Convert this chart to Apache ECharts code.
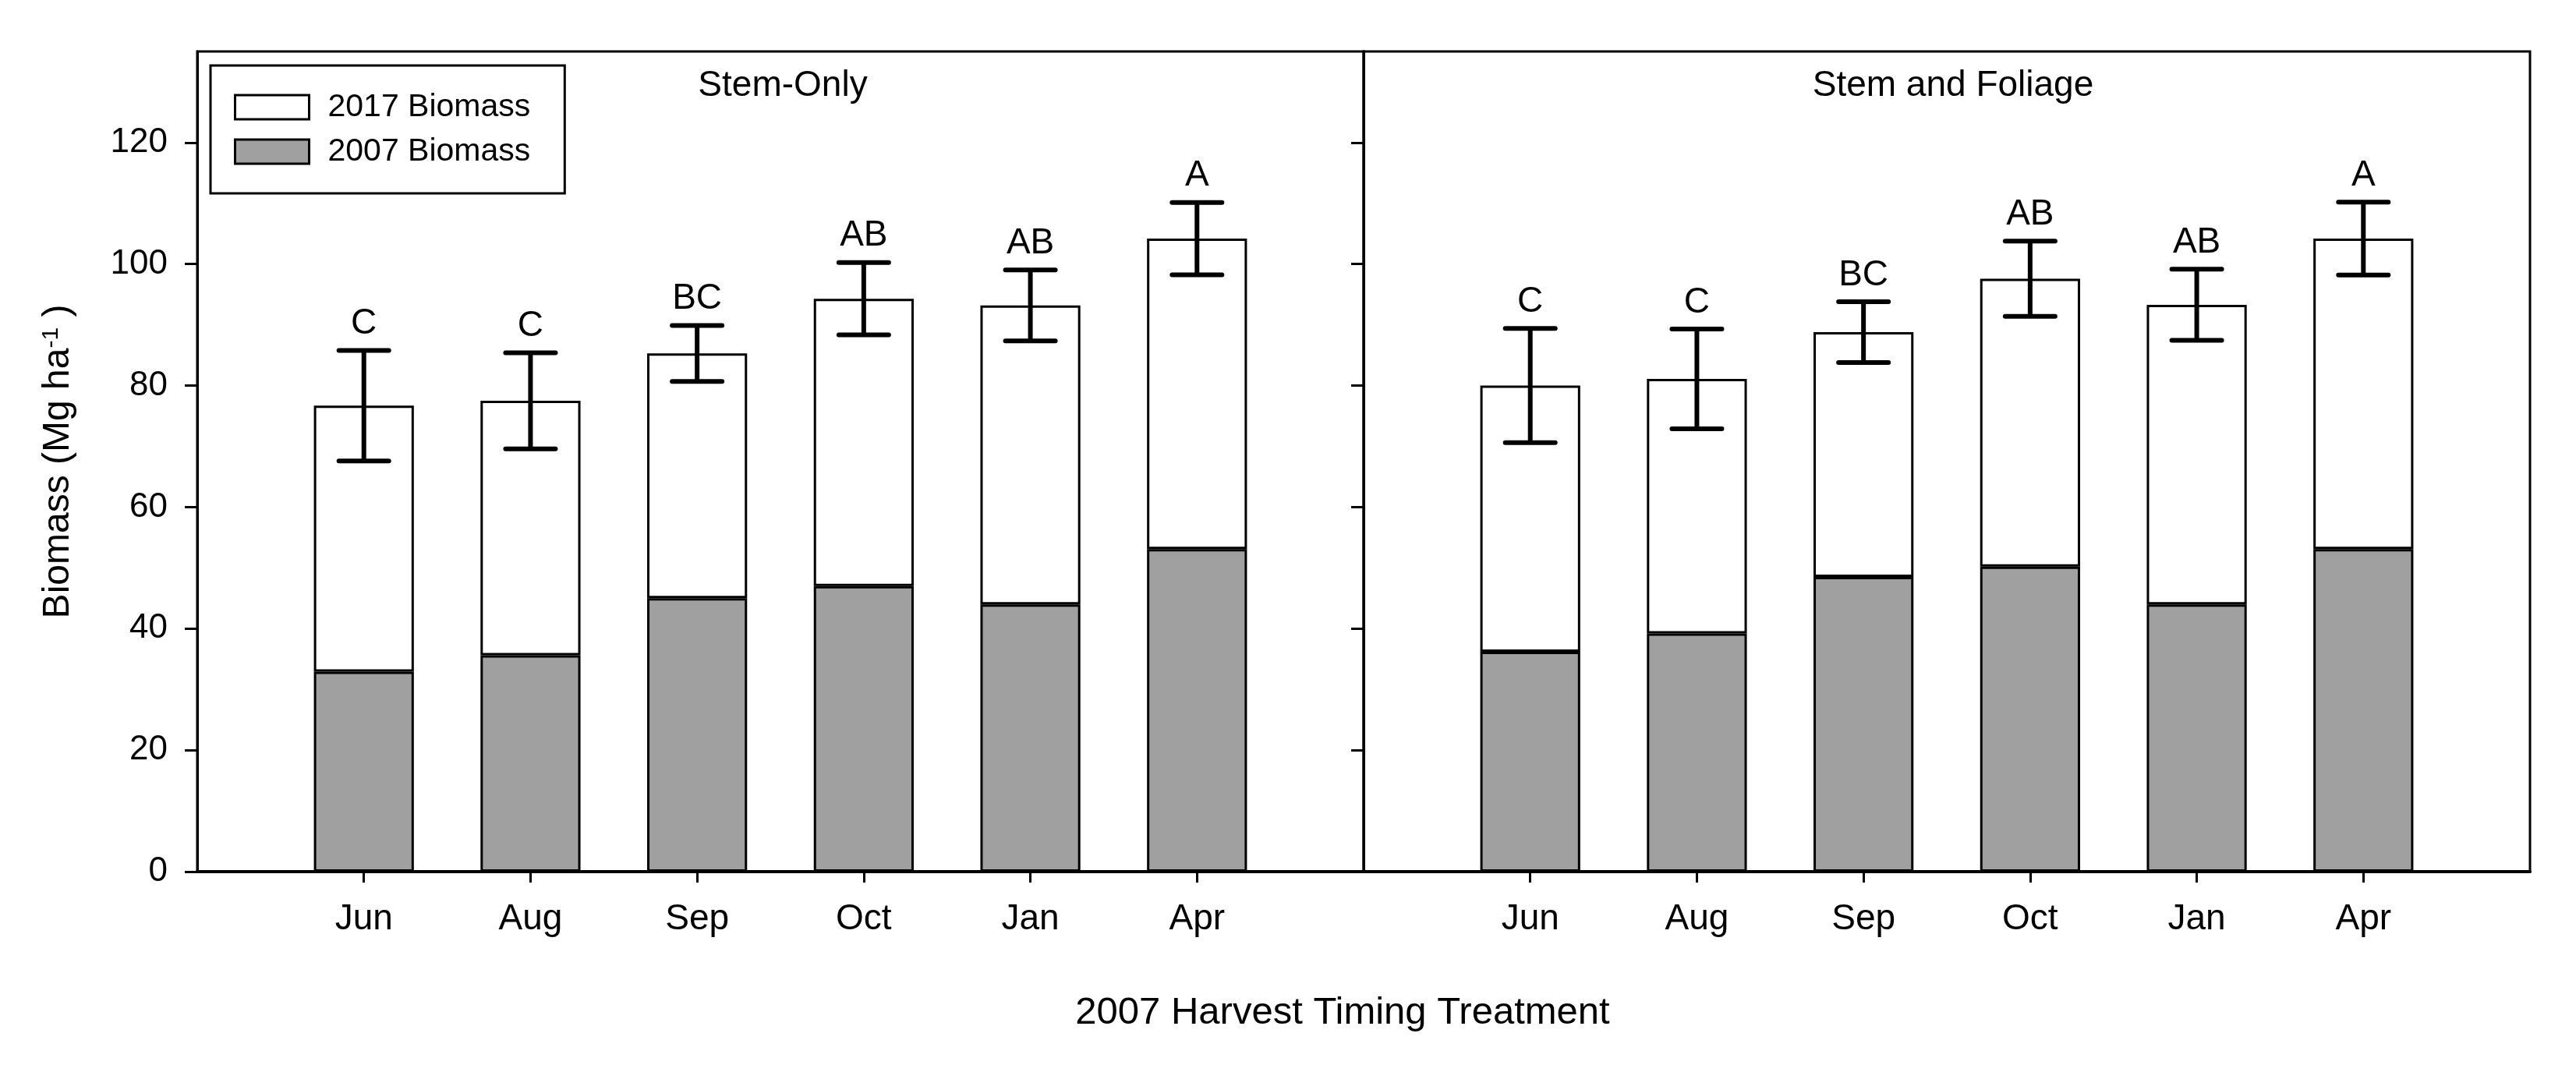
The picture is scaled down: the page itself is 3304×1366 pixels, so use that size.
<!DOCTYPE html>
<html><head><meta charset="utf-8">
<script src="https://cdn.jsdelivr.net/npm/echarts@6/dist/echarts.min.js"></script>
<style>html,body{margin:0;padding:0;background:#fff}#c{width:3304px;height:1366px}</style>
</head><body><div id="c"></div>
<script>
const months = ['Jun','Aug','Sep','Oct','Jan','Apr'];
const yTicks = [0,20,40,60,80,100,120];
const panelTitles = ['Stem-Only','Stem and Foliage'];
const seriesNames = ['2017 Biomass','2007 Biomass'];
// Stem-Only panel
const stemOnlyTotal = [76.7,77.5,85.3,94.3,93.2,104.2];
const stemOnly2007 = [32.9,35.6,45.0,47.0,44.0,53.1];
const stemOnlyErr = [9.1,7.9,4.6,5.95,5.85,5.95];
const stemOnlyLetters = ['C','C','BC','AB','AB','A'];
// Stem and Foliage panel
const foliageTotal = [80.0,81.1,88.8,97.6,93.3,104.2];
const foliage2007 = [36.2,39.2,48.5,50.2,44.0,53.1];
const foliageErr = [9.4,8.2,5.0,6.2,5.85,6.0];
const foliageLetters = ['C','C','BC','AB','AB','A'];

const FF = 'Liberation Sans, Arial, sans-serif';
const cats = [''].concat(months, ['']);
const panels = [
  {total: stemOnlyTotal, base: stemOnly2007, err: stemOnlyErr, letters: stemOnlyLetters},
  {total: foliageTotal, base: foliage2007, err: foliageErr, letters: foliageLetters}
];
const grids = [
  {left: 253, top: 66, width: 1496, height: 1052, show: true, borderColor: '#000', borderWidth: 3, backgroundColor: 'transparent'},
  {left: 1749, top: 66, width: 1496, height: 1052, show: true, borderColor: '#000', borderWidth: 3, backgroundColor: 'transparent'}
];
const xAxes = [0,1].map(g => ({
  type: 'category', gridIndex: g, data: cats, boundaryGap: false,
  axisLine: {show: true, lineStyle: {color: '#000', width: 4}},
  axisTick: {show: true, interval: (i) => i >= 1 && i <= months.length, length: 14, lineStyle: {color: '#000', width: 3}},
  axisLabel: {interval: 0, margin: 38, fontSize: 46, color: '#000', fontFamily: FF},
  splitLine: {show: false}
}));
const yAxes = [0,1].map(g => ({
  type: 'value', gridIndex: g, min: 0, max: 135, interval: 20,
  axisLine: {show: true, lineStyle: {color: '#000', width: 3}},
  axisTick: {show: true, length: 16, customValues: yTicks, lineStyle: {color: '#000', width: 3}},
  axisLabel: {show: g === 0, customValues: yTicks, margin: 38, fontSize: 44, color: '#000', fontFamily: FF},
  splitLine: {show: false}
}));
const series = [];
panels.forEach((p, g) => {
  series.push({
    name: seriesNames[1], type: 'bar', stack: 'p' + g, xAxisIndex: g, yAxisIndex: g, barWidth: '60%',
    itemStyle: {color: '#a0a0a0', borderColor: '#000', borderWidth: 3},
    data: ['-'].concat(p.base, ['-'])
  });
  series.push({
    name: seriesNames[0], type: 'bar', stack: 'p' + g, xAxisIndex: g, yAxisIndex: g, barWidth: '60%',
    itemStyle: {color: '#ffffff', borderColor: '#000', borderWidth: 3},
    data: ['-'].concat(p.total.map((t, i) => +(t - p.base[i]).toFixed(2)), ['-'])
  });
  series.push({
    type: 'custom', xAxisIndex: g, yAxisIndex: g, z: 5,
    encode: {x: 0, y: [1, 2]},
    data: p.total.map((t, i) => [i + 1, t - p.err[i], t + p.err[i]]),
    renderItem: (params, api) => {
      const x = api.value(0);
      const lo = api.coord([x, api.value(1)]);
      const hi = api.coord([x, api.value(2)]);
      const hw = 32;
      const st = {stroke: '#000', lineWidth: 6, lineCap: 'round'};
      return {type: 'group', children: [
        {type: 'line', shape: {x1: lo[0], y1: lo[1], x2: hi[0], y2: hi[1]}, style: {stroke: '#000', lineWidth: 6}},
        {type: 'line', shape: {x1: hi[0] - hw, y1: hi[1], x2: hi[0] + hw, y2: hi[1]}, style: st},
        {type: 'line', shape: {x1: lo[0] - hw, y1: lo[1], x2: lo[0] + hw, y2: lo[1]}, style: st},
        {type: 'text', style: {text: p.letters[params.dataIndex], x: hi[0], y: hi[1] - 11, align: 'center', verticalAlign: 'bottom', fontSize: 46, fontFamily: FF, fill: '#000'}}
      ]};
    }
  });
});
const chart = echarts.init(document.getElementById('c'), null, {renderer: 'canvas'});
chart.setOption({
  animation: false,
  backgroundColor: '#fff',
  textStyle: {fontFamily: FF},
  grid: grids, xAxis: xAxes, yAxis: yAxes, series: series,
  legend: {
    data: seriesNames, orient: 'vertical', left: 270, top: 84,
    padding: [33, 44, 33, 30], itemGap: 16, itemWidth: 95, itemHeight: 31,
    borderColor: '#000', borderWidth: 3, borderRadius: 0, backgroundColor: '#fff',
    icon: 'rect',
    itemStyle: {borderColor: '#000', borderWidth: 3},
    textStyle: {fontSize: 41, color: '#000', fontFamily: FF, padding: [0, 0, 0, 19]}
  },
  graphic: [
    {type: 'text', left: 1004, top: 110, style: {text: panelTitles[0], fontSize: 46, fontFamily: FF, fill: '#000'}, x: 1004, y: 110},
  ]
});
// titles via graphic with explicit positions
chart.setOption({graphic: [
  {type: 'text', x: 1004, y: 110, style: {text: panelTitles[0], align: 'center', verticalAlign: 'middle', fontSize: 46, fontFamily: FF, fill: '#000'}},
  {type: 'text', x: 2505, y: 110, style: {text: panelTitles[1], align: 'center', verticalAlign: 'middle', fontSize: 46, fontFamily: FF, fill: '#000'}},
  {type: 'text', x: 1722, y: 1299, style: {text: '2007 Harvest Timing Treatment', align: 'center', verticalAlign: 'middle', fontSize: 49, fontFamily: FF, fill: '#000'}},
  {type: 'text', x: 75, y: 592, rotation: Math.PI / 2, style: {text: 'Biomass (Mg ha{sup|-1} )', align: 'center', verticalAlign: 'middle', fontSize: 48, fontFamily: FF, fill: '#000',
    rich: {sup: {fontSize: 30, fontFamily: FF, fill: '#000', verticalAlign: 'top', padding: [0, 0, 14, 0]}}}}
]}, {replaceMerge: ['graphic']});
</script></body></html>
